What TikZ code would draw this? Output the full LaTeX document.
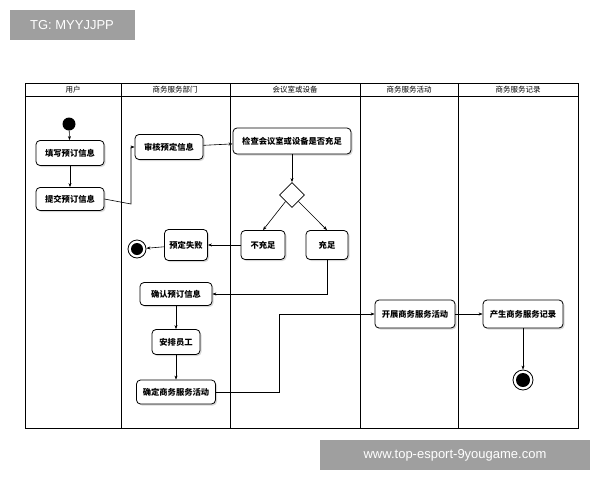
\documentclass[tikz,border=0pt]{standalone}
\usepackage{fontspec}
\setmainfont{Liberation Sans}
\newfontfamily\cjk{Noto Sans CJK SC}
\usetikzlibrary{shapes.geometric,shadows,arrows.meta}

\tikzset{
	act/.style={draw, rounded corners=4pt, thick, fill=white, drop shadow={opacity=0.3,shadow xshift=1.5pt,shadow yshift=-1.5pt}, font=\cjk\bfseries\fontsize{8.3}{9}\selectfont, inner sep=2pt},
	flow/.style={-{Stealth[length=4pt]}, semithick},
	lane/.style={thin}
}

\begin{document}
\begin{tikzpicture}[x=1pt,y=-1pt]
	\useasboundingbox (0,0) rectangle (600,480);
	\fill[white] (0,0) rectangle (600,480);
	
	% watermarks
	\fill[gray!75] (10,10) rectangle (135,40);
	\node[white, font=\fontsize{13}{14}\selectfont] (tg) at (72,25) {TG: MYYJJPP};
	\fill[gray!75] (320,440) rectangle (590,470);
	\node[white, font=\fontsize{13}{14}\selectfont] (url) at (455,455) {www.top-esport-9yougame.com};
	
	% swimlanes
	\draw[lane] (25,83) rectangle (578,428);
	\draw[lane] (25,96) -- (578,96);
	\foreach \x in {121,230,360,458} \draw[lane] (\x,83) -- (\x,428);
	\foreach \x/\t in {73/用户,175/商务服务部门,295/会议室或设备,409/商务服务活动,518/商务服务记录}
		\node[font=\cjk\fontsize{7.5}{8}\selectfont] at (\x,89.5) {\t};
	
	% activities
	\node[circle, fill=black, minimum size=13pt, inner sep=0] (start) at (69,124) {};
	\node[act, minimum width=68pt, minimum height=25pt] (fill) at (70,153) {填写预订信息};
	\node[act, minimum width=68pt, minimum height=23pt] (submit) at (70,199) {提交预订信息};
	\node[act, minimum width=68pt, minimum height=25pt] (review) at (169,147) {审核预定信息};
	\node[act, minimum width=118pt, minimum height=26pt] (check) at (292,141) {检查会议室或设备是否充足};
	\node[diamond, draw, thick, fill=white, minimum size=25pt, inner sep=0] (dec) at (292,195) {};
	\node[act, minimum width=44pt, minimum height=29pt] (lack) at (263,245) {不充足};
	\node[act, minimum width=42pt, minimum height=29pt] (enough) at (327,245) {充足};
	\node[act, minimum width=43pt, minimum height=31pt] (fail) at (186,245) {预定失败};
	\node[circle, draw, thick, minimum size=18pt, inner sep=0] (end1) at (137,249) {};
	\fill (end1) circle (6pt);
	\node[act, minimum width=72pt, minimum height=23pt] (confirm) at (176,294) {确认预订信息};
	\node[act, minimum width=48pt, minimum height=25pt] (staff) at (176,342) {安排员工};
	\node[act, minimum width=79pt, minimum height=24pt] (decide) at (176,392) {确定商务服务活动};
	\node[act, minimum width=80pt, minimum height=28pt] (run) at (415,314) {开展商务服务活动};
	\node[act, minimum width=80pt, minimum height=28pt] (record) at (523,314) {产生商务服务记录};
	\node[circle, draw, thick, minimum size=20pt, inner sep=0] (end2) at (523,380) {};
	\fill (end2) circle (7pt);
	
	% flows
	\draw[flow] (start) -- (fill);
	\draw[flow] (fill) -- (submit);
	\draw[flow] (submit.east) -- (131,204) |- (review.west);
	\draw[flow] (review) -- (check);
	\draw[flow] (check) -- (dec);
	\draw[flow] (dec.south west) -- (lack.north);
	\draw[flow] (dec.south east) -- (enough.north);
	\draw[flow] (lack) -- (fail);
	\draw[flow] (fail) -- (end1);
	\draw[flow] (enough.south) |- (confirm.east);
	\draw[flow] (confirm) -- (staff);
	\draw[flow] (staff) -- (decide);
	\draw[flow] (decide.east) -- (279,392) |- (run.west);
	\draw[flow] (run) -- (record);
	\draw[flow] (record) -- (end2);
\end{tikzpicture}
\end{document}
